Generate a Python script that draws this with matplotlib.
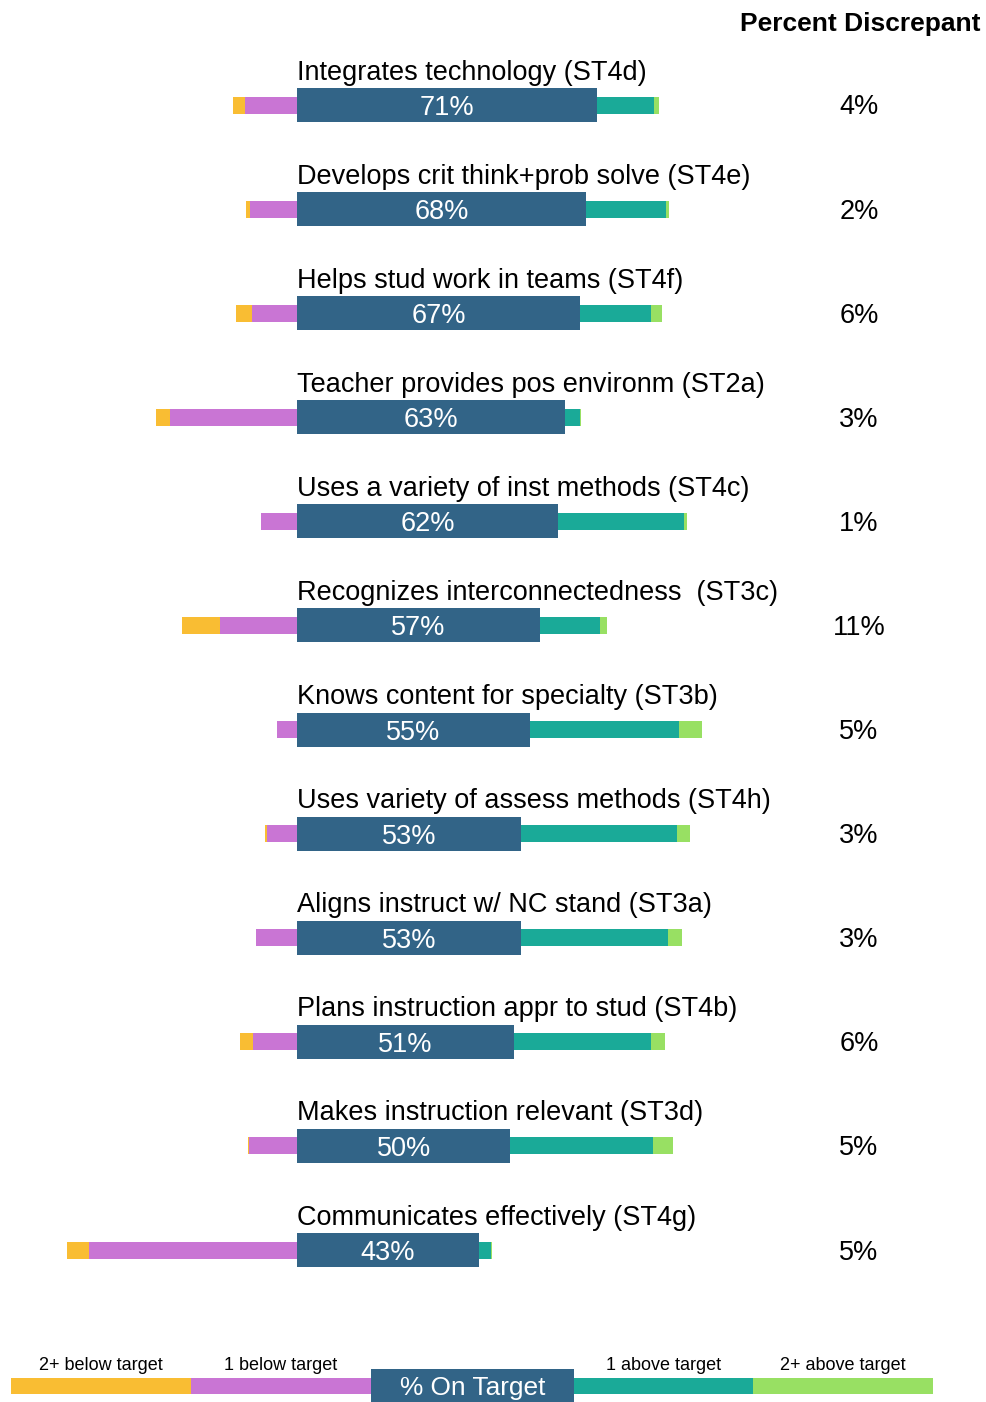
import matplotlib
matplotlib.use("Agg")
import matplotlib.pyplot as plt

plt.rcParams['font.family'] = ['Liberation Sans', 'DejaVu Sans']

# --- data (percent of ratings per category) ---
labels = [
    "Integrates technology (ST4d)",
    "Develops crit think+prob solve (ST4e)",
    "Helps stud work in teams (ST4f)",
    "Teacher provides pos environm (ST2a)",
    "Uses a variety of inst methods (ST4c)",
    "Recognizes interconnectedness  (ST3c)",
    "Knows content for specialty (ST3b)",
    "Uses variety of assess methods (ST4h)",
    "Aligns instruct w/ NC stand (ST3a)",
    "Plans instruction appr to stud (ST4b)",
    "Makes instruction relevant (ST3d)",
    "Communicates effectively (ST4g)",
]
below2 = [2.8, 1.0, 3.8, 3.3, 0.0, 9.0, 0.0, 0.5, 0.0, 3.0, 0.3, 5.2]
below1 = [12.3, 11.1, 10.6, 30.0, 8.5, 18.2, 4.7, 7.1, 9.7, 10.4, 11.3, 49.2]
on_target = [71.0, 68.4, 67.0, 63.3, 61.8, 57.4, 55.1, 53.0, 53.0, 51.4, 50.4, 43.0]
above1 = [13.5, 18.9, 16.8, 3.5, 29.6, 14.2, 35.2, 36.9, 34.8, 32.4, 33.8, 2.8]
above2 = [1.0, 0.7, 2.4, 0.3, 0.7, 1.7, 5.4, 3.1, 3.1, 3.1, 4.7, 0.2]
discrepant = [4, 2, 6, 3, 1, 11, 5, 3, 3, 6, 5, 5]

legend_labels = ["2+ below target", "1 below target", "% On Target",
                 "1 above target", "2+ above target"]

# colours
c_b2 = '#F9BD33'
c_b1 = '#C975D4'
c_on = '#326487'
c_a1 = '#1AAA98'
c_a2 = '#98E063'

# layout (pixels of a 987x1402 picture)
W, H = 987, 1402
X0 = 297          # pixel where the on-target bar starts
PX_PCT = 4.23     # pixels per percent
Y0 = 105          # centre of first row
ROW = 104.1       # row spacing

fig = plt.figure(figsize=(W / 100, H / 100), dpi=100)
ax = fig.add_axes([0, 0, 1, 1])
ax.set_xlim(-X0 / PX_PCT, (W - X0) / PX_PCT)
ax.set_ylim((H - Y0) / ROW, -Y0 / ROW)
ax.axis('off')

def px2x(p):
    return (p - X0) / PX_PCT

rows = list(range(len(labels)))
thin = 17 / ROW
thick = 34 / ROW

left1 = [-v for v in below1]
left2 = [-(a + b) for a, b in zip(below1, below2)]
ax.barh(rows, below2, left=left2, height=thin, color=c_b2, linewidth=0)
ax.barh(rows, below1, left=left1, height=thin, color=c_b1, linewidth=0)
ax.barh(rows, on_target, left=0, height=thick, color=c_on, linewidth=0)
ax.barh(rows, above1, left=on_target, height=thin, color=c_a1, linewidth=0)
ax.barh(rows, above2, left=[a + b for a, b in zip(on_target, above1)],
        height=thin, color=c_a2, linewidth=0)

for i in rows:
    ax.text(0, i - 25.5 / ROW, labels[i], ha='left', va='baseline',
            fontsize=19.5, color='black')
    ax.text(on_target[i] / 2, i + 10 / ROW, f"{round(on_target[i])}%",
            ha='center', va='baseline', fontsize=19.5, color='white')
    ax.text(px2x(859), i + 9.5 / ROW, f"{discrepant[i]}%",
            ha='center', va='baseline', fontsize=19.5, color='black')

ax.text(px2x(981), (30.5 - Y0) / ROW, "Percent Discrepant", ha='right',
        va='baseline', fontsize=19, fontweight='bold', color='black')

# --- legend strip ---
lg = fig.add_axes([0, 0, 1, 1], zorder=3)
lg.set_xlim(0, W)
lg.set_ylim(H, 0)
lg.axis('off')
seg_w = [180, 180, 203, 179, 180]
seg_c = [c_b2, c_b1, c_on, c_a1, c_a2]
x = 11
for k, (w, c) in enumerate(zip(seg_w, seg_c)):
    if k == 2:
        lg.barh(1385.5, w, left=x, height=33, color=c, linewidth=0)
        lg.text(x + w / 2, 1395, legend_labels[k], ha='center', va='baseline',
                fontsize=18.9, color='white')
    else:
        lg.barh(1386, w, left=x, height=16, color=c, linewidth=0)
        lg.text(x + w / 2, 1370, legend_labels[k], ha='center', va='baseline',
                fontsize=13, color='black')
    x += w

fig.savefig("out.png", dpi=100)
